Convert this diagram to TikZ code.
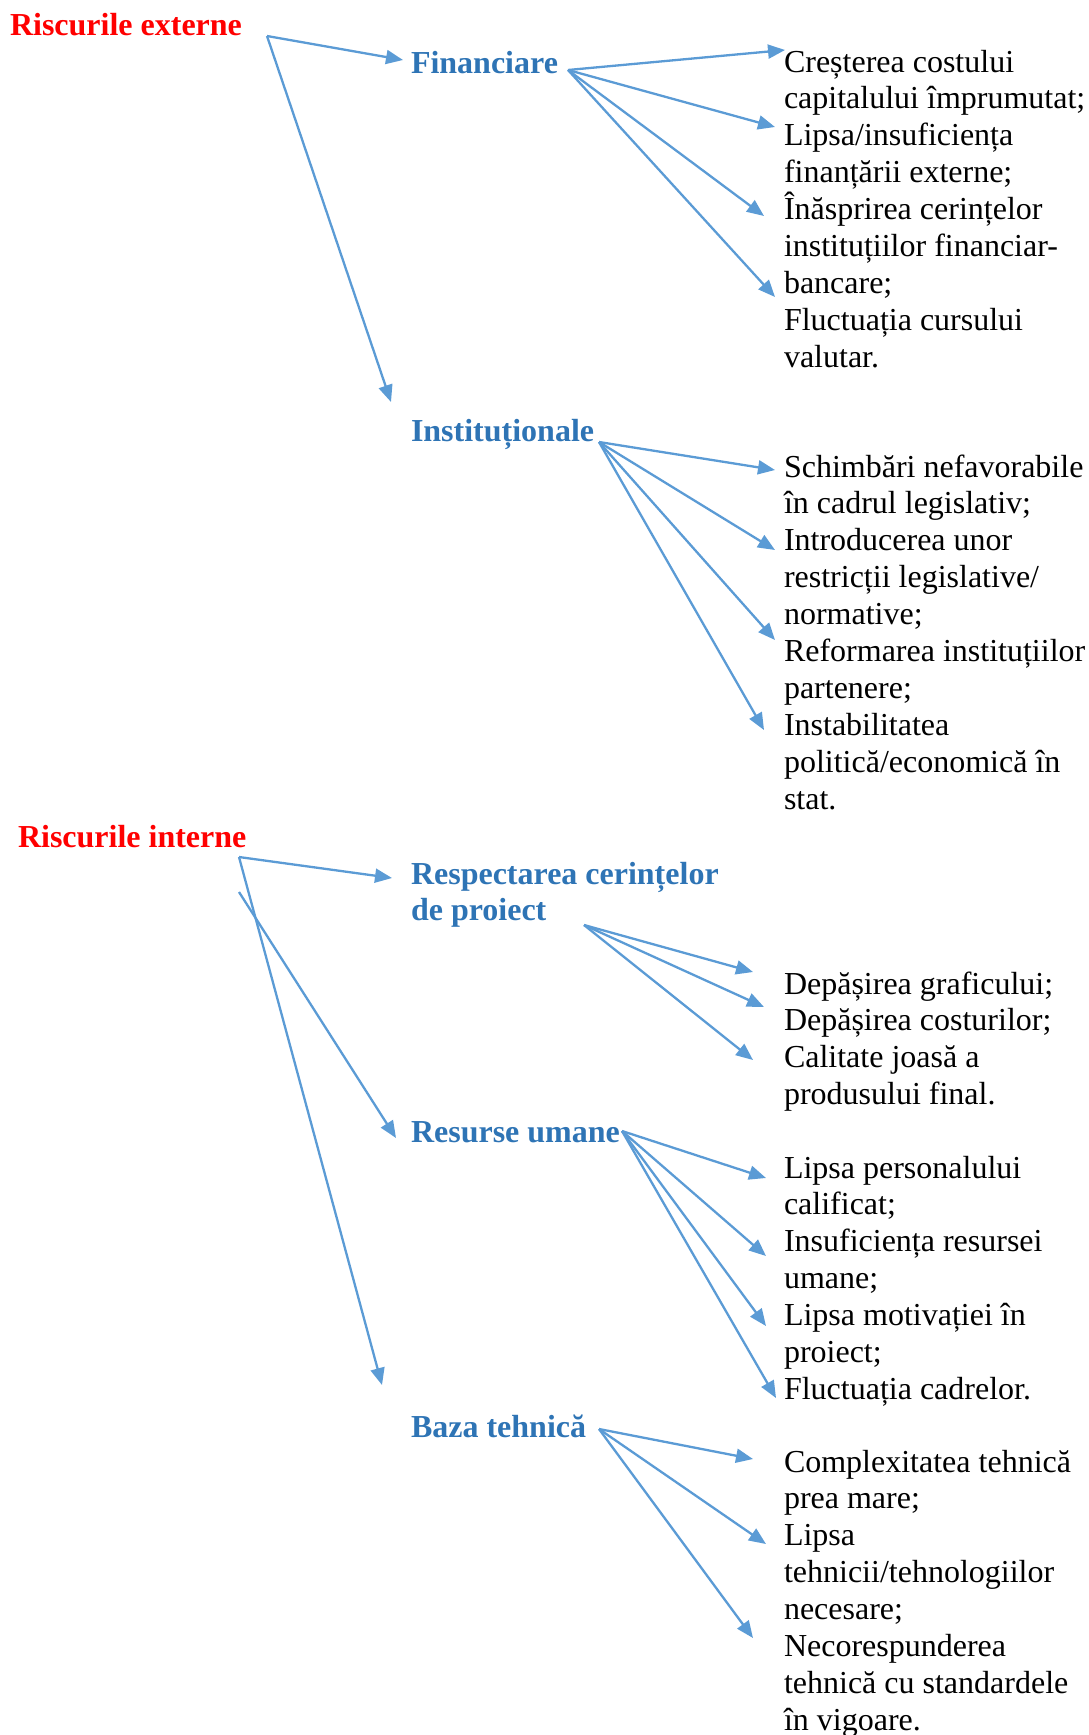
\documentclass[tikz,border=0pt]{standalone}
\usepackage{fontspec}
\setmainfont{Liberation Serif}
\usetikzlibrary{arrows.meta}
\definecolor{riskred}{HTML}{FF0000}
\definecolor{headblue}{HTML}{2E74B5}
\definecolor{arrowblue}{HTML}{5B9BD5}
\begin{document}
\begin{tikzpicture}[x=1pt,y=-1pt,
  every node/.style={inner sep=0pt, outer sep=0pt},
  txt/.style={font=\fontsize{32}{36.9}\selectfont, align=left, anchor=north west},
  toplabel/.style={font=\fontsize{32}{36.9}\selectfont\bfseries, text=riskred, anchor=base west},
  catlabel/.style={font=\fontsize{32}{36.9}\selectfont\bfseries, text=headblue, align=left, anchor=north west},
  conn/.style={draw=arrowblue, line width=2.3pt, -{Triangle[length=17pt,width=14pt]}}]
\useasboundingbox (0,0) rectangle (1088,1735);

% ---------- external risks ----------
\node[toplabel] (ext) at (10,35) {Riscurile externe};
\node[catlabel] (fin) at (411,73-25.83) {\strut Financiare};
\node[catlabel] (inst) at (411,441-25.83) {\strut Instituționale};

\node[txt] (finlist) at (784,72-25.83) {\strut Creșterea costului\\
capitalului împrumutat;\\
Lipsa/insuficiența\\
finanțării externe;\\
Înăsprirea cerințelor\\
instituțiilor financiar-\\
bancare;\\
Fluctuația cursului\\
valutar.};

\node[txt] (instlist) at (784,477-25.83) {\strut Schimbări nefavorabile\\
în cadrul legislativ;\\
Introducerea unor\\
restricții legislative/\\
normative;\\
Reformarea instituțiilor\\
partenere;\\
Instabilitatea\\
politică/economică în\\
stat.};

% ---------- internal risks ----------
\node[toplabel] (int) at (18,847) {Riscurile interne};
\node[catlabel] (resp) at (411,884-25.83) {\strut Respectarea cerințelor\\de proiect};
\node[catlabel] (res) at (411,1142-25.83) {\strut Resurse umane};
\node[catlabel] (baza) at (411,1437-25.83) {\strut Baza tehnică};

\node[txt] (resplist) at (784,994-25.83) {\strut Depășirea graficului;\\
Depășirea costurilor;\\
Calitate joasă a\\
produsului final.};

\node[txt] (reslist) at (784,1178-25.83) {\strut Lipsa personalului\\
calificat;\\
Insuficiența resursei\\
umane;\\
Lipsa motivației în\\
proiect;\\
Fluctuația cadrelor.};

\node[txt] (bazalist) at (784,1472-25.83) {\strut Complexitatea tehnică\\
prea mare;\\
Lipsa\\
tehnicii/tehnologiilor\\
necesare;\\
Necorespunderea\\
tehnică cu standardele\\
în vigoare.};

% ---------- connector end points ----------
\coordinate (ext0) at (267,36);
\coordinate (finIn) at (403,60);
\coordinate (instIn) at (391,402);
\coordinate (fin0) at (568,70);
\coordinate (f1) at (785,50);
\coordinate (f2) at (775,127);
\coordinate (f3) at (764,216);
\coordinate (f4) at (775,297);
\coordinate (inst0) at (599,442);
\coordinate (i1) at (775,470);
\coordinate (i2) at (775,550);
\coordinate (i3) at (775,640);
\coordinate (i4) at (764,730);

\coordinate (int0) at (239,857);
\coordinate (int1) at (239,892);
\coordinate (respIn) at (392,878);
\coordinate (resIn) at (396,1138);
\coordinate (bazaIn) at (382,1385);
\coordinate (resp0) at (584,925);
\coordinate (r1) at (753,972);
\coordinate (r2) at (764,1007);
\coordinate (r3) at (753,1060);
\coordinate (res0) at (622,1131);
\coordinate (u1) at (766,1178);
\coordinate (u2) at (766,1256);
\coordinate (u3) at (766,1326);
\coordinate (u4) at (776,1398);
\coordinate (baza0) at (599,1429);
\coordinate (b1) at (753,1459);
\coordinate (b2) at (766,1544);
\coordinate (b3) at (753,1638);

% ---------- connectors ----------
\draw[conn] (ext0) -- (finIn);
\draw[conn] (ext0) -- (instIn);
\foreach \t in {f1,f2,f3,f4} \draw[conn] (fin0) -- (\t);
\foreach \t in {i1,i2,i3,i4} \draw[conn] (inst0) -- (\t);

\draw[conn] (int0) -- (respIn);
\draw[conn] (int1) -- (resIn);
\draw[conn] (int0) -- (bazaIn);
\foreach \t in {r1,r2,r3} \draw[conn] (resp0) -- (\t);
\foreach \t in {u1,u2,u3,u4} \draw[conn] (res0) -- (\t);
\foreach \t in {b1,b2,b3} \draw[conn] (baza0) -- (\t);
\end{tikzpicture}
\end{document}
